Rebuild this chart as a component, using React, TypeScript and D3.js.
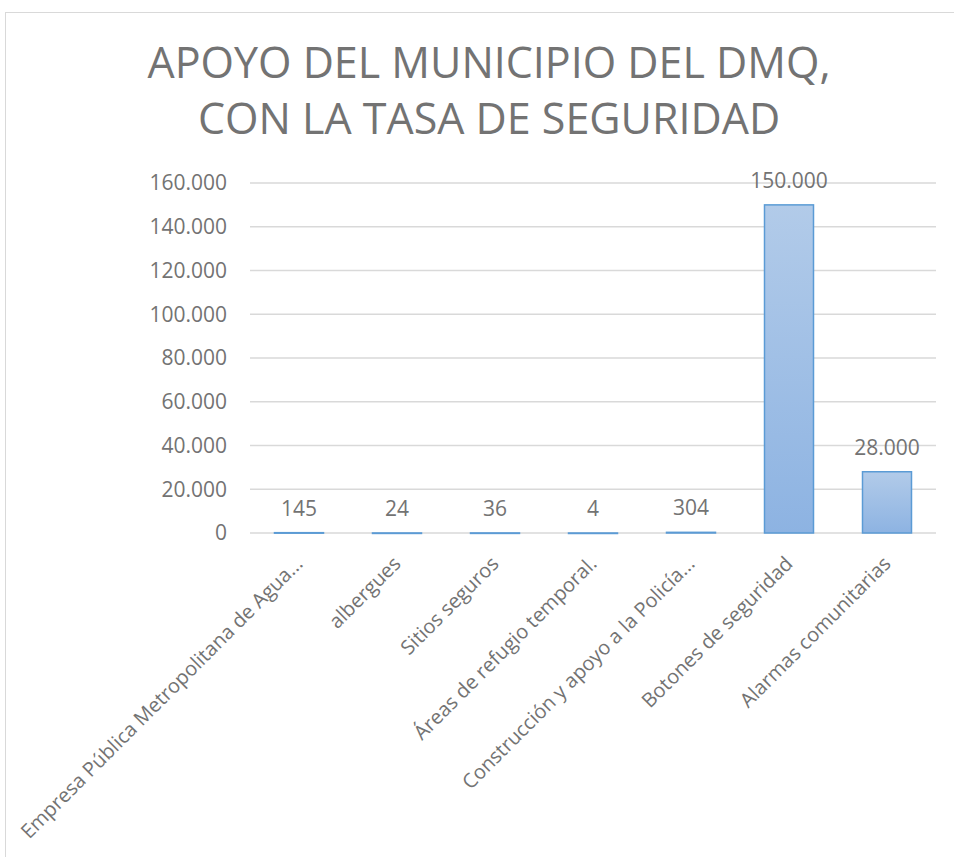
import React from "react";
import * as d3 from "d3";

const categories = [
  "Empresa Pública Metropolitana de Agua...",
  "albergues",
  "Sitios seguros",
  "Áreas de refugio temporal.",
  "Construcción y apoyo a la Policía...",
  "Botones de seguridad",
  "Alarmas comunitarias",
];
const values = [145, 24, 36, 4, 304, 150000, 28000];
const valueLabels = ["145", "24", "36", "4", "304", "150.000", "28.000"];
const yTicks = [0, 20000, 40000, 60000, 80000, 100000, 120000, 140000, 160000];
const titleLines = ["APOYO DEL MUNICIPIO DEL DMQ,", "CON LA TASA DE SEGURIDAD"];

const fmt = (v: number) => (v === 0 ? "0" : d3.format(",")(v).replace(/,/g, "."));

export default function App() {
  const W = 954, H = 857;
  const left = 250, right = 936, top = 183, bottom = 533;
  const x = d3.scaleBand<string>().domain(categories).range([left, right]).paddingInner(0.5).paddingOuter(0.25);
  const y = d3.scaleLinear().domain([0, 160000]).range([bottom, top]);
  const font = "'Open Sans', sans-serif";
  const gray = "#737373";
  return (
    <svg width={W} height={H} style={{ position: "absolute", left: 0, top: 0 }} fontFamily={font}>
      <defs>
        <linearGradient id="barGrad" x1="0" y1="0" x2="0" y2="1">
          <stop offset="0%" stopColor="#b2cbe9" />
          <stop offset="100%" stopColor="#8db3e2" />
        </linearGradient>
      </defs>
      <rect x={0} y={0} width={W} height={H} fill="#fff" />
      <rect x={5.5} y={12.5} width={W + 10} height={H + 10} fill="none" stroke="#d9d9d9" strokeWidth={1} />
      {titleLines.map((t, i) => (
        <text key={t} x={489} y={78 + i * 56} textAnchor="middle" fontSize={43} fill={gray}>
          {t}
        </text>
      ))}
      {yTicks.map((t) => (
        <g key={t}>
          <line x1={left} x2={right} y1={y(t)} y2={y(t)} stroke="#d9d9d9" strokeWidth={1.5} />
          <text x={227} y={y(t)} dy="0.35em" textAnchor="end" fontSize={21} fill={gray}>
            {fmt(t)}
          </text>
        </g>
      ))}
      {categories.map((c, i) => {
        const bx = x(c)!;
        const bw = x.bandwidth();
        const h = bottom - y(values[i]);
        return (
          <g key={c}>
            <rect x={bx} y={y(values[i])} width={bw} height={Math.max(h, 0.5)} fill="url(#barGrad)" stroke="#5b9bd5" strokeWidth={1.5} />
            <text x={bx + bw / 2} y={y(values[i]) - 17} textAnchor="middle" fontSize={21} fill={gray}>
              {valueLabels[i]}
            </text>
            <text
              transform={`translate(${bx + bw / 2 + 5},${565}) rotate(-45)`}
              textAnchor="end"
              fontSize={20}
              fill={gray}
            >
              {c}
            </text>
          </g>
        );
      })}
    </svg>
  );
}
